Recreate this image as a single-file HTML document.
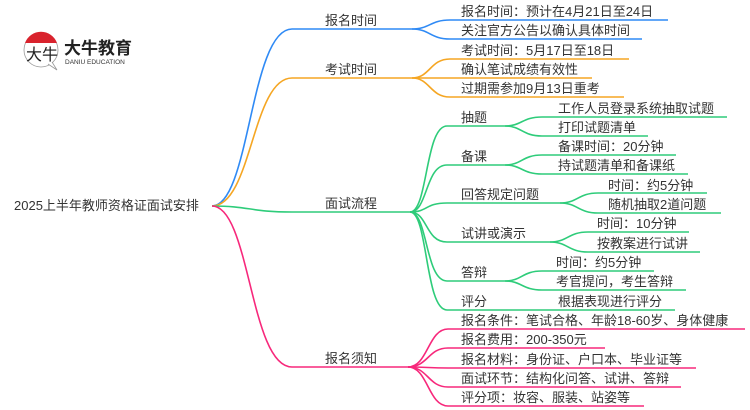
<!DOCTYPE html>
<html><head><meta charset="utf-8"><style>
html,body{margin:0;padding:0;background:#fff;}
svg{display:block;}
text{font-family:"Liberation Sans","Noto Sans CJK SC",sans-serif;font-size:13px;fill:#333;}
</style></head><body>
<svg width="750" height="410" viewBox="0 0 750 410" xmlns="http://www.w3.org/2000/svg" fill="none" stroke-width="1.6">
<!-- logo -->
<g>
<circle cx="41" cy="50" r="17" fill="#fff" stroke="#999" stroke-width="0.8"/>
<path d="M25 43 A17 17 0 0 1 57 43 Z" fill="#d9232d" stroke="none"/>
<path d="M48 64 L57 70 L52 62" fill="#fff" stroke="#999" stroke-width="0.8"/>
<text x="26" y="60" style="font-size:16px;fill:#222;">大牛</text>
<text x="64" y="54" style="font-size:17px;font-weight:bold;fill:#222;">大牛教育</text>
<text x="65" y="64" style="font-size:6.5px;fill:#333;">DANIU EDUCATION</text>
</g>
<!-- root -->
<text x="14" y="210">2025上半年教师资格证面试安排</text>
<!-- level1 branches -->
<path d="M212 206 C250 206,250 29,292 29 L412 29" stroke="#2f8af5"/>
<path d="M212 206 C252 206,252 78,292 78 L412 78" stroke="#f5a623"/>
<path d="M212 206 C250 206,250 212,292 212 L410 212" stroke="#2ecc7a"/>
<path d="M212 206 C250 206,250 367,292 367 L408 367" stroke="#f7287b"/>
<text x="325" y="25">报名时间</text>
<text x="325" y="74">考试时间</text>
<text x="325" y="208">面试流程</text>
<text x="325" y="363">报名须知</text>
<!-- 报名时间 leaves -->
<g stroke="#2f8af5">
<path d="M412 29 C430 29,430 20,450 20 L668 20"/>
<path d="M412 29 C430 29,430 39,450 39 L642 39"/>
</g>
<text x="461" y="16">报名时间：预计在4月21日至24日</text>
<text x="461" y="35">关注官方公告以确认具体时间</text>
<!-- 考试时间 leaves -->
<g stroke="#f5a623">
<path d="M412 78 C430 78,430 59,450 59 L629 59"/>
<path d="M412 78 C430 78,430 78,450 78 L592 78"/>
<path d="M412 78 C430 78,430 97,450 97 L624 97"/>
</g>
<text x="461" y="55">考试时间：5月17日至18日</text>
<text x="461" y="74">确认笔试成绩有效性</text>
<text x="461" y="93">过期需参加9月13日重考</text>
<!-- 面试流程 level2 -->
<g stroke="#2ecc7a">
<path d="M410 212 C428 212,425 126,447 126 L505 126"/>
<path d="M410 212 C428 212,425 165,447 165 L505 165"/>
<path d="M410 212 C428 212,425 203,447 203 L560 203"/>
<path d="M410 212 C428 212,425 242,447 242 L550 242"/>
<path d="M410 212 C428 212,425 281,447 281 L505 281"/>
<path d="M410 212 C428 212,425 310,447 310 L675 310"/>
<!-- leaves -->
<path d="M505 126 C522 126,522 117,542 117 L727 117"/>
<path d="M505 126 C522 126,522 136,542 136 L648 136"/>
<path d="M505 165 C522 165,522 155,542 155 L676 155"/>
<path d="M505 165 C522 165,522 174,542 174 L688 174"/>
<path d="M560 203 C578 203,578 193,598 193 L707 193"/>
<path d="M560 203 C578 203,578 213,598 213 L721 213"/>
<path d="M550 242 C568 242,568 232,588 232 L689 232"/>
<path d="M550 242 C568 242,568 252,588 252 L700 252"/>
<path d="M505 281 C522 281,522 271,542 271 L654 271"/>
<path d="M505 281 C522 281,522 290,542 290 L686 290"/>
</g>
<text x="461" y="122">抽题</text>
<text x="461" y="161">备课</text>
<text x="461" y="199">回答规定问题</text>
<text x="461" y="238">试讲或演示</text>
<text x="461" y="277">答辩</text>
<text x="461" y="306">评分</text>
<text x="558" y="113">工作人员登录系统抽取试题</text>
<text x="558" y="132">打印试题清单</text>
<text x="558" y="151">备课时间：20分钟</text>
<text x="558" y="170">持试题清单和备课纸</text>
<text x="608" y="190">时间：约5分钟</text>
<text x="608" y="209">随机抽取2道问题</text>
<text x="597" y="228">时间：10分钟</text>
<text x="597" y="248">按教案进行试讲</text>
<text x="556" y="267">时间：约5分钟</text>
<text x="556" y="286">考官提问，考生答辩</text>
<text x="558" y="306">根据表现进行评分</text>
<!-- 报名须知 leaves -->
<g stroke="#f7287b">
<path d="M408 367 C428 367,428 329,448 329 L745 329"/>
<path d="M408 367 C428 367,428 348,448 348 L605 348"/>
<path d="M408 367 C428 367,428 368,448 368 L696 368"/>
<path d="M408 367 C428 367,428 387,448 387 L681 387"/>
<path d="M408 367 C428 367,428 406,448 406 L644 406"/>
</g>
<text x="461" y="325">报名条件：笔试合格、年龄18-60岁、身体健康</text>
<text x="461" y="344">报名费用：200-350元</text>
<text x="461" y="364">报名材料：身份证、户口本、毕业证等</text>
<text x="461" y="383">面试环节：结构化问答、试讲、答辩</text>
<text x="461" y="402">评分项：妆容、服装、站姿等</text>
</svg>
</body></html>
